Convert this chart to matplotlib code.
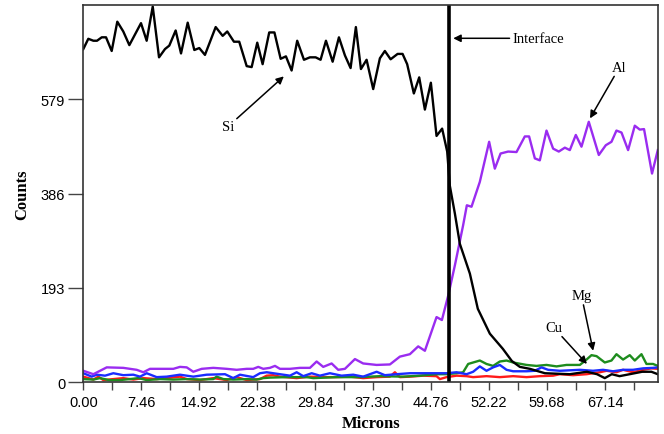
import matplotlib
matplotlib.use('Agg')
import matplotlib.pyplot as plt
import numpy as np

# line scan data (microns, counts) read from the profile
si_x = [0.00, 0.64, 1.29, 1.76, 2.37, 2.92, 3.65, 4.37, 5.14, 5.92, 7.42, 8.15, 8.93, 9.74,
        10.51, 11.06, 11.88, 12.57, 13.43, 14.28, 14.92, 15.65, 17.03, 17.93, 18.52, 19.38,
        20.06, 21.02, 21.66, 22.38, 23.07, 23.92, 24.59, 25.39, 26.07, 26.80, 27.52, 28.39,
        29.16, 29.89, 30.53, 31.22, 32.08, 32.89, 33.66, 34.39, 35.07, 35.72, 36.45, 37.30,
        38.16, 38.80, 39.54, 40.44, 41.08, 41.67, 42.53, 43.22, 43.95, 44.72, 45.45, 46.17,
        46.82, 47.16, 47.81, 48.45, 49.74, 50.76, 52.31, 53.98, 55.14, 56.17, 57.46, 59.40,
        62.60, 64.80, 66.10, 67.10, 68.00, 69.00, 70.30, 71.90, 73.10, 73.92]
si_y = [682, 703, 699, 699, 706, 706, 678, 738, 718, 690, 735, 699, 769, 665,
        682, 689, 720, 673, 736, 680, 684, 670, 727, 709, 718, 697,
        697, 647, 645, 695, 651, 716, 716, 662, 667, 638, 699, 660,
        665, 665, 660, 699, 656, 706, 669, 643, 727, 641, 660, 600,
        663, 678, 661, 672, 672, 651, 591, 624, 558, 613, 504, 519,
        472, 402, 345, 283, 222, 150, 99, 68, 43, 31, 27, 18,
        16, 21, 16, 8, 16, 12, 16, 21, 21, 16]

al_x = [0.00, 1.29, 3.01, 5.14, 6.87, 7.72, 8.58, 10.29, 11.58, 12.44, 13.30, 14.15, 15.23,
        16.72, 18.44, 19.73, 21.02, 21.86, 22.51, 23.15, 24.01, 24.66, 25.30, 26.59, 27.87,
        29.16, 30.02, 30.87, 31.95, 32.80, 33.66, 34.95, 36.01, 37.74, 39.45, 40.73, 42.02,
        43.09, 43.95, 45.45, 46.14, 46.95, 47.81, 48.87, 49.35, 49.95, 51.02, 52.22, 52.95,
        53.69, 54.66, 55.74, 56.81, 57.36, 58.10, 58.74, 59.60, 60.45, 61.18, 61.96, 62.60,
        63.37, 64.10, 65.04, 66.33, 67.23, 67.96, 68.60, 69.25, 70.10, 70.96, 71.60, 72.15,
        73.18, 73.92]
al_y = [23, 16, 30, 29, 25, 20, 27, 27, 27, 31, 30, 21, 27,
        29, 27, 25, 27, 27, 31, 27, 29, 33, 27, 27, 29,
        29, 42, 31, 38, 25, 27, 47, 38, 35, 36, 52, 57,
        73, 64, 133, 127, 177, 239, 321, 362, 359, 410, 492, 437,
        468, 472, 471, 503, 503, 458, 454, 515, 478, 472, 480, 475,
        506, 482, 533, 465, 485, 492, 515, 511, 475, 525, 517, 518,
        427, 475]

blue_x = [0.00, 1.08, 1.72, 2.79, 3.86, 5.14, 6.43, 7.29, 8.15, 9.44, 10.73, 12.44, 14.15,
          15.87, 18.23, 19.29, 20.15, 21.86, 22.73, 23.59, 24.44, 26.59, 27.45, 28.30, 29.38,
          30.44, 31.73, 33.23, 34.73, 36.01, 36.87, 37.74, 38.80, 40.31, 42.02, 43.73, 45.45,
          46.74, 48.03, 49.31, 50.16, 51.02, 51.88, 52.73, 53.59, 54.46, 55.31, 57.03, 58.10,
          58.96, 59.81, 61.31, 63.89, 65.59, 66.88, 68.17, 69.45, 70.74, 72.03, 73.31, 73.92]
blue_y = [18, 11, 15, 13, 18, 14, 15, 11, 18, 10, 11, 15, 11,
          15, 16, 8, 15, 10, 18, 20, 18, 13, 20, 12, 18,
          13, 18, 13, 15, 11, 16, 21, 14, 16, 18, 18, 18,
          18, 20, 16, 21, 32, 23, 30, 35, 25, 22, 22, 23,
          30, 25, 23, 25, 23, 25, 22, 25, 25, 28, 29, 30]

green_x = [0.00, 1.29, 2.14, 3.30, 4.72, 6.00, 7.08, 8.15, 9.86, 11.58, 13.30, 15.01, 16.72,
           17.15, 18.02, 19.29, 21.02, 22.30, 23.15, 24.01, 26.16, 28.73, 29.59, 32.59, 35.60,
           38.16, 41.16, 43.31, 45.45, 46.74, 48.03, 48.87, 49.52, 50.16, 51.02, 51.88, 52.73,
           53.59, 54.46, 55.31, 57.03, 58.31, 59.60, 60.89, 62.17, 63.89, 64.75, 65.39, 66.04,
           67.10, 67.96, 68.60, 69.45, 70.31, 70.96, 71.82, 72.46, 73.31, 73.92]
green_y = [6, 5, 8, 4, 4, 6, 8, 4, 6, 5, 6, 5, 6,
           11, 6, 5, 6, 5, 8, 9, 10, 10, 8, 10, 10,
           12, 11, 13, 16, 16, 18, 20, 37, 40, 44, 37, 33,
           42, 44, 40, 35, 33, 35, 32, 35, 35, 46, 55, 53,
           40, 44, 57, 46, 55, 44, 57, 37, 37, 33]

red_x = [0.00, 1.29, 1.93, 2.57, 3.86, 5.14, 6.43, 7.72, 9.44, 10.73, 12.44, 13.30, 15.01,
         16.72, 18.44, 19.73, 21.02, 22.73, 23.59, 24.44, 25.30, 27.45, 29.16, 30.87, 32.59,
         34.30, 36.01, 37.74, 39.45, 40.09, 40.73, 42.02, 43.73, 45.45, 45.88, 46.74, 48.03,
         49.31, 50.16, 51.88, 53.59, 55.31, 57.03, 58.74, 60.45, 61.31, 63.03, 64.75, 66.46,
         67.32, 68.60, 69.45, 70.74, 72.03, 73.10, 73.92]
red_y = [11, 5, 11, 4, 6, 8, 5, 8, 6, 8, 11, 6, 4,
         8, 4, 10, 4, 6, 13, 14, 11, 8, 11, 10, 10,
         11, 8, 10, 11, 20, 10, 11, 13, 12, 6, 10, 13,
         12, 10, 12, 10, 12, 10, 12, 13, 16, 14, 16, 20,
         23, 20, 25, 20, 25, 28, 27]

interface_x = 47.05
x_ticks = [0.00, 7.46, 14.92, 22.38, 29.84, 37.30, 44.76, 52.22, 59.68, 67.14]
y_ticks = [0, 193, 386, 579]

serif = 'Liberation Serif'
sans = 'Liberation Sans'

fig = plt.figure(figsize=(6.64, 4.35), dpi=100)
ax = fig.add_axes([0.1255, 0.1195, 0.8655, 0.8665])

lw = 1.7
ax.plot(red_x, red_y, color='#ff1a1a', lw=lw)
ax.plot(green_x, green_y, color='#1e8c1e', lw=lw)
ax.plot(blue_x, blue_y, color='#1a2cff', lw=lw)
ax.plot(al_x, al_y, color='#9a2cf0', lw=lw)
ax.plot(si_x, si_y, color='black', lw=lw)
ax.axvline(interface_x, color='black', lw=2.6)

ax.set_xlim(0, 73.95)
ax.set_ylim(0, 772)
ax.set_xticks(x_ticks)
ax.set_xticklabels([f'{t:.2f}' for t in x_ticks], fontfamily=sans, fontsize=10.5)
ax.set_xticks([t + 3.73 for t in x_ticks], minor=True)
ax.set_yticks(y_ticks)
ax.set_yticklabels([str(t) for t in y_ticks], fontfamily=sans, fontsize=10.5)
ax.tick_params(axis='x', which='both', length=6, width=1, color='#444444', pad=3)
ax.tick_params(axis='y', length=11, width=1, color='#444444', pad=2)
for s in ax.spines.values():
    s.set_color('#333333')
    s.set_linewidth(1.2)

ax.set_xlabel('Microns', fontfamily=serif, fontweight='bold', fontsize=12, labelpad=5)
ax.set_ylabel('Counts', fontfamily=serif, fontweight='bold', fontsize=12, labelpad=8)

# annotations
arrow = dict(arrowstyle='-|>', color='black', lw=1.1, mutation_scale=11, shrinkA=0, shrinkB=0)
ax.annotate('Interface', xy=(47.6, 704), xytext=(55.2, 704), fontfamily=serif, fontsize=10.5,
            va='center', ha='left', arrowprops=arrow)
ax.annotate('Al', xy=(65.2, 540), xytext=(69.0, 645), fontfamily=serif, fontsize=10.5,
            va='center', ha='center', arrowprops=arrow)
ax.annotate('Si', xy=(25.8, 626), xytext=(18.6, 523), fontfamily=serif, fontsize=10.5,
            va='center', ha='center', arrowprops=arrow)
ax.annotate('Mg', xy=(65.6, 64), xytext=(64.1, 177), fontfamily=serif, fontsize=10.5,
            va='center', ha='center', arrowprops=arrow)
ax.annotate('Cu', xy=(64.8, 37), xytext=(60.5, 112), fontfamily=serif, fontsize=10.5,
            va='center', ha='center', arrowprops=arrow)

fig.savefig('out.png', dpi=100)
